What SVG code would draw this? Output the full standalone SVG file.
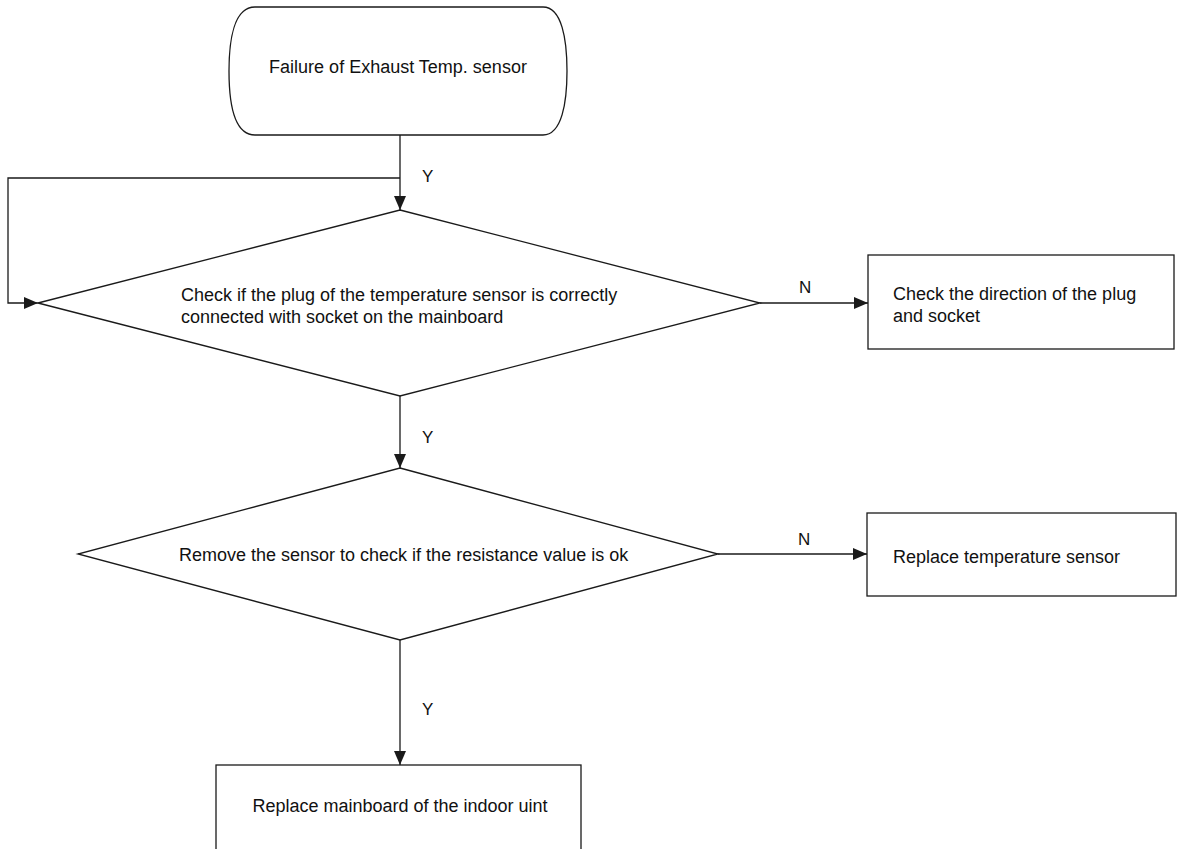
<svg xmlns="http://www.w3.org/2000/svg" width="1177" height="849" viewBox="0 0 1177 849">
<style>
.shape{fill:#fff;stroke:#1a1a1a;stroke-width:1.3}
.line{fill:none;stroke:#1a1a1a;stroke-width:1.3}
text{font-family:"Liberation Sans",Arial,sans-serif;font-size:18px;fill:#111}
.lbl{font-size:17px}
</style>
<defs>
<marker id="ah" markerUnits="userSpaceOnUse" markerWidth="14" markerHeight="12" refX="14" refY="6" orient="auto">
<path d="M0,0 L14,6 L0,12 Z" fill="#1a1a1a"/>
</marker>
</defs>
<rect width="1177" height="849" fill="#fff"/>
<g id="connectors">
<path class="line" d="M400,135 V210" marker-end="url(#ah)"/>
<path class="line" d="M400,178 H8 V303 H38" marker-end="url(#ah)"/>
<path class="line" d="M760,303 H868" marker-end="url(#ah)"/>
<path class="line" d="M400,396 V468" marker-end="url(#ah)"/>
<path class="line" d="M718,554 H867" marker-end="url(#ah)"/>
<path class="line" d="M400,640 V765" marker-end="url(#ah)"/>
<text class="lbl" x="422" y="182">Y</text>
<text class="lbl" x="422" y="443">Y</text>
<text class="lbl" x="422" y="715">Y</text>
<text class="lbl" x="799" y="293">N</text>
<text class="lbl" x="798" y="545">N</text>
</g>
<g id="start">
<path class="shape" d="M255,7 H543 C562,7 567,40 567,71 C567,102 562,135 543,135 H255 C234,135 229,102 229,71 C229,40 234,7 255,7 Z"/>
<text x="398" y="73" text-anchor="middle">Failure of Exhaust Temp. sensor</text>
</g>
<g id="check-plug">
<path class="shape" d="M400,210 L760,303 L400,396 L38,303 Z"/>
<text x="181" y="301">Check if the plug of the temperature sensor is correctly</text>
<text x="181" y="323">connected with socket on the mainboard</text>
</g>
<g id="check-direction">
<rect class="shape" x="868" y="255" width="306" height="94"/>
<text x="893" y="300">Check the direction of the plug</text>
<text x="893" y="322">and socket</text>
</g>
<g id="check-resistance">
<path class="shape" d="M400,468 L718,554 L400,640 L78,554 Z"/>
<text x="179" y="561">Remove the sensor to check if the resistance value is ok</text>
</g>
<g id="replace-sensor">
<rect class="shape" x="867" y="513" width="309" height="83"/>
<text x="893" y="563">Replace temperature sensor</text>
</g>
<g id="replace-mainboard">
<rect class="shape" x="216" y="765" width="365" height="100"/>
<text x="400" y="812" text-anchor="middle">Replace mainboard of the indoor uint</text>
</g>
</svg>
